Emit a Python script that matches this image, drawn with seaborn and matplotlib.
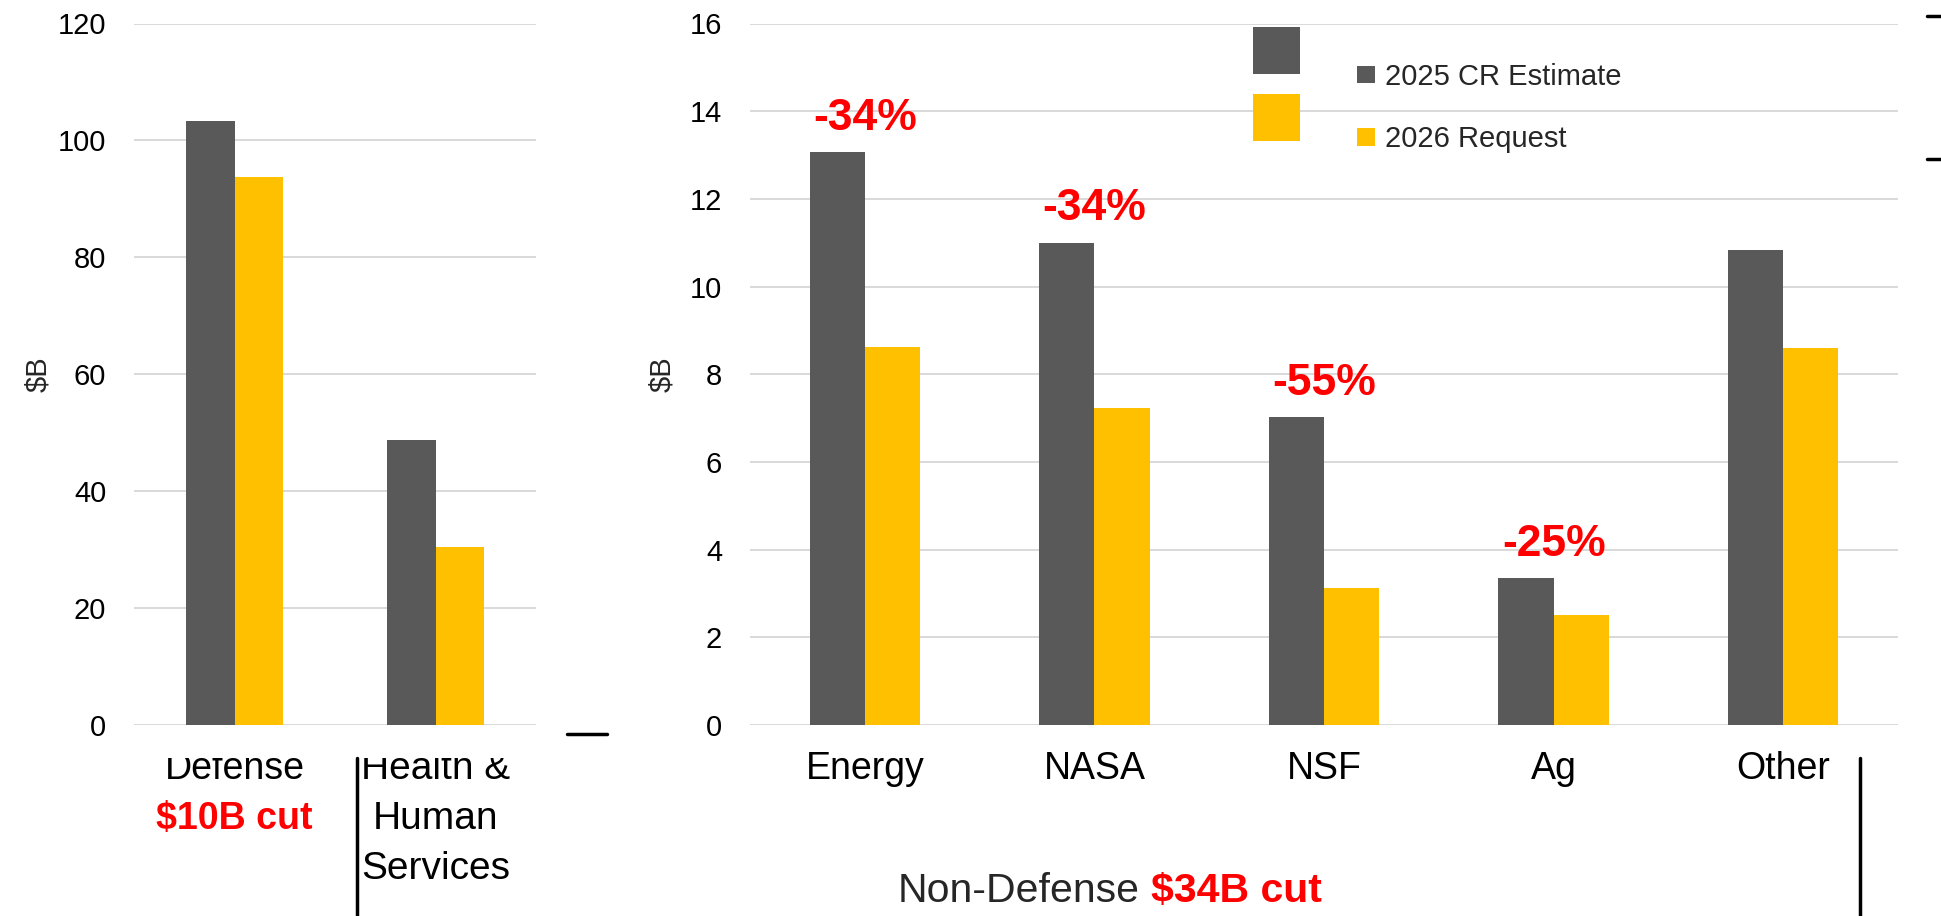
import matplotlib
matplotlib.use("Agg")
import matplotlib.pyplot as plt
import matplotlib.transforms as mtransforms
from matplotlib.lines import Line2D
from matplotlib.patches import Rectangle
import seaborn as sns
import pandas as pd

# ---------------- data ----------------
series_names = ["2025 CR Estimate", "2026 Request"]
left_categories = ["Defense", "Health &\nHuman\nServices"]
left_est = [103.3, 48.8]
left_req = [93.7, 30.4]

right_categories = ["Energy", "NASA", "NSF", "Ag", "Other"]
right_est = [13.06, 11.0, 7.03, 3.35, 10.84]
right_req = [8.63, 7.22, 3.13, 2.5, 8.6]
pct_labels = ["-34%", "-34%", "-55%", "-25%", ""]

left_ticks = [0, 20, 40, 60, 80, 100, 120]
right_ticks = [0, 2, 4, 6, 8, 10, 12, 14, 16]

colors = ["#595959", "#FFC000"]
RED = "#FF0000"
GRID = "#D9D9D9"

def long_df(cats, est, req):
    rows = []
    for c, e, r in zip(cats, est, req):
        rows.append({"cat": c, "series": series_names[0], "value": e})
        rows.append({"cat": c, "series": series_names[1], "value": r})
    return pd.DataFrame(rows)

df_left = long_df(left_categories, left_est, left_req)
df_right = long_df(right_categories, right_est, right_req)

sns.set_theme(style="white")
plt.rcParams["font.family"] = ["Liberation Sans", "DejaVu Sans"]

W, H = 1941, 916
fig = plt.figure(figsize=(W / 100, H / 100), dpi=100)

def fx(px):
    return px / W

def fy(py):
    return 1 - py / H

ax1 = fig.add_axes([fx(134), fy(725), fx(536) - fx(134), fy(23.5) - fy(725)])
ax2 = fig.add_axes([fx(750), fy(725), fx(1898) - fx(750), fy(23.5) - fy(725)])

sns.barplot(data=df_left, x="cat", y="value", hue="series", palette=colors,
            width=0.48, linewidth=0, edgecolor="none", ax=ax1, legend=False,
            order=left_categories, hue_order=series_names, saturation=1)
sns.barplot(data=df_right, x="cat", y="value", hue="series", palette=colors,
            width=0.48, linewidth=0, edgecolor="none", ax=ax2, legend=True,
            order=right_categories, hue_order=series_names, saturation=1)

leg0 = ax2.get_legend()
handles = list(leg0.legend_handles)
labels = [t.get_text() for t in leg0.get_texts()]
leg0.remove()

for ax, ticks in ((ax1, left_ticks), (ax2, right_ticks)):
    ax.set_ylim(ticks[0], ticks[-1])
    ax.set_yticks(ticks)
    ax.set_yticklabels([str(t) for t in ticks])
    ax.yaxis.grid(True, color=GRID, linewidth=1.4)
    ax.xaxis.grid(False)
    ax.set_axisbelow(True)
    for s in ax.spines.values():
        s.set_visible(False)
    ax.tick_params(axis="y", length=0, pad=20, labelsize=21, labelcolor="black")
    ax.tick_params(axis="x", length=0, pad=19, labelsize=27, labelcolor="black")
    ax.set_xlabel("")
    ax.set_ylabel("")

xl = ax1.get_xticklabels()
xl[1].set_linespacing(1.5)
xl[1].set_fontsize(28)

# $B labels
fig.text(fx(38), fy(374), "$B", rotation=90, ha="center", va="center", fontsize=21)
fig.text(fx(662), fy(374), "$B", rotation=90, ha="center", va="center", fontsize=21)

# percent change labels
for i, (v, t) in enumerate(zip(right_est, pct_labels)):
    if t:
        ax2.annotate(t, xy=(i, v), xytext=(0, 16), textcoords="offset points",
                     ha="center", va="baseline", fontsize=32, fontweight="bold",
                     color=RED)

# red cut label under Defense
trans_l = mtransforms.blended_transform_factory(ax1.transData, fig.transFigure)
ax1.text(0, fy(829), "$10B cut", transform=trans_l, ha="center", va="baseline",
         fontsize=27, fontweight="bold", color=RED, clip_on=False)

# Non-Defense label
fig.text(fx(1140), fy(902), "Non-Defense", ha="right", va="baseline", fontsize=29.5)
fig.text(fx(1151), fy(902), "$34B cut", ha="left", va="baseline", fontsize=29.5,
         fontweight="bold", color=RED)

# white band clipping the top of the left category labels (as in reference)
fig.add_artist(Rectangle((fx(130), fy(758)), fx(560) - fx(130), fy(735) - fy(758),
                         transform=fig.transFigure, facecolor="white",
                         edgecolor="none", zorder=10))

# separator lines
def hline(x0, x1, y, lw=2.5):
    fig.add_artist(Line2D([fx(x0), fx(x1)], [fy(y), fy(y)], color="black",
                          linewidth=lw, transform=fig.transFigure, zorder=11))

def vline(x, y0, y1, lw=2.5):
    fig.add_artist(Line2D([fx(x), fx(x)], [fy(y0), fy(y1)], color="black",
                          linewidth=lw, transform=fig.transFigure, zorder=11))

vline(357, 758, 916)
vline(1860, 758, 916)
hline(567, 607, 734)
hline(1927, 1941, 16)
hline(1927, 1941, 159)

# big-square legend (duplicate keys)
fig.legend(handles, ["", ""], loc="upper left",
           bbox_to_anchor=(fx(1253), fy(27)), bbox_transform=fig.transFigure,
           frameon=False, borderpad=0, borderaxespad=0, fontsize=20,
           handlelength=1.69, handleheight=2.22, handletextpad=0,
           labelspacing=0.72)

# regular legend
fig.legend(handles, labels, loc="upper left",
           bbox_to_anchor=(fx(1357), fy(63)), bbox_transform=fig.transFigure,
           frameon=False, borderpad=0, borderaxespad=0, fontsize=21,
           handlelength=0.62, handleheight=0.55, handletextpad=0.34,
           labelspacing=1.17)

fig.savefig("out.png", dpi=100)
